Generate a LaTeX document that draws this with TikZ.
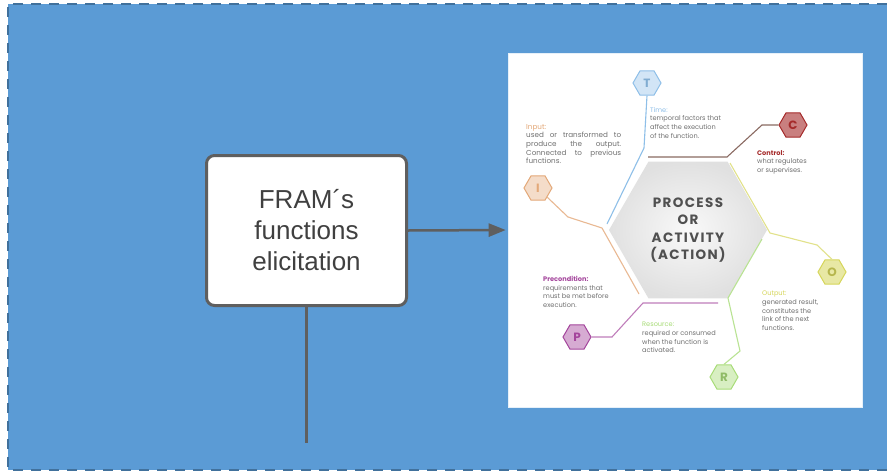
\documentclass[tikz,border=0pt]{standalone}
\usepackage{fontspec}
\setmainfont{Liberation Sans}
\newfontfamily\framfont{Poppins}
\newfontfamily\framwide[LetterSpace=10]{Poppins}
\usepackage{xcolor}
\usetikzlibrary{positioning,arrows.meta,shapes.geometric}
\definecolor{bgblue}{HTML}{5B9BD5}
\definecolor{frameblue}{HTML}{41719C}
\definecolor{boxgray}{HTML}{5F5F5F}
\definecolor{textgray}{HTML}{404040}
\definecolor{procgray}{HTML}{505050}
\definecolor{smallgray}{HTML}{707070}
\definecolor{timeblue}{HTML}{8EBFE8}
\definecolor{ctrlred}{HTML}{A52A2A}
\definecolor{ctrlline}{HTML}{8A6A62}
\definecolor{inorange}{HTML}{E3A878}
\definecolor{outyellow}{HTML}{D6D65A}
\definecolor{resgreen}{HTML}{A8DC78}
\definecolor{prepurple}{HTML}{A4459C}

\tikzset{
  icon/.style={regular polygon, regular polygon sides=6, minimum size=28pt, inner sep=0,
    line width=1pt, font=\framfont\bfseries\fontsize{12}{12}\selectfont},
  aspect/.style={line width=1.1pt},
  info/.style={anchor=north west, inner sep=0, align=left, text=smallgray,
    font=\framfont\fontsize{6.6}{8.6}\selectfont}
}

\begin{document}
\begin{tikzpicture}[x=1pt, y=-1pt, >={Triangle[length=17pt, width=13pt]}]
\useasboundingbox (0,0) rectangle (887,472);

\fill[bgblue] (8,4) rectangle (887,470);
\draw[frameblue, line width=2.5pt, dash pattern=on 10pt off 8pt] (887,4) -- (8,4) -- (8,470) -- (887,470);

% elicitation step
\node[draw=boxgray, line width=3pt, fill=white, rounded corners=8pt,
      minimum width=200pt, minimum height=150pt, align=center, text=textgray,
      font=\fontsize{26}{31}\selectfont] (elic) at (306.5,230.5) {FRAM´s\\functions\\elicitation};

% the FRAM picture
\node[fill=white, draw=white!85!bgblue, line width=0.6pt, minimum width=354pt,
      minimum height=354pt, inner sep=0] (img) at (685,230) {};

\draw[->, line width=2.5pt, boxgray, shorten >=2pt] (elic.east) -- (img.west);
\coordinate (down) at (306.5,443);
\draw[line width=2.5pt, boxgray] (elic.south) -- (down);

% central function
\node[regular polygon, regular polygon sides=6, minimum size=158pt, inner sep=0,
      shade, inner color=gray!5, outer color=gray!24, align=center, text=procgray,
      font=\framwide\bfseries\fontsize{13.5}{17.5}\selectfont] (proc) at (688,230)
      {PROCESS\\OR\\ACTIVITY\\(ACTION)};

% aspects
\node[icon, fill=timeblue!40, draw=timeblue, text=timeblue!90!black] (T) at (647,83) {T};
\node[icon, fill=ctrlred!60!white, draw=ctrlred, text=ctrlred] (C) at (793,125) {C};
\node[icon, fill=inorange!40, draw=inorange, text=inorange] (I) at (538,188) {I};
\node[icon, fill=outyellow!55, draw=outyellow, text=outyellow!85!black] (O) at (832,272) {O};
\node[icon, fill=resgreen!45, draw=resgreen, text=resgreen!85!black] (R) at (724,377) {R};
\node[icon, fill=prepurple!45, draw=prepurple, text=prepurple] (P) at (577,337) {P};

\draw[aspect, timeblue] (T.south) -- (644,148) -- (607,224);
\draw[aspect, ctrlline] (C.west) -- (762,125) -- (727,157) -- (648,157);
\draw[aspect, inorange!80] (I.south east) -- (568,217) -- (602,228) -- (639,294);
\draw[aspect, outyellow!70] (O.north) -- (817,245) -- (770,233) -- (730,163);
\draw[aspect, resgreen!80] (R.north) -- (740,351) -- (728,298) -- (762,239);
\draw[aspect, prepurple!70] (P.east) -- (612,337) -- (643,303) -- (718,303);

% descriptions
\node[info, font=\framfont\fontsize{7.2}{8.6}\selectfont] (tin) at (526,124) {\textcolor{inorange}{Input:}\\\makebox[95pt][s]{used or transformed to}\\\makebox[95pt][s]{produce the output.}\\\makebox[95pt][s]{Connected to previous}\\functions.};
\node[info] (ttime) at (650,107) {\textcolor{timeblue}{Time:}\\temporal factors that\\affect the execution\\of the function.};
\node[info] (tctrl) at (757,150) {\textcolor{ctrlred}{\bfseries Control:}\\what regulates\\or supervises.};
\node[info] (tpre) at (543,276) {\textcolor{prepurple}{\bfseries Precondition:}\\requirements that\\must be met before\\execution.};
\node[info] (tres) at (642,322) {\textcolor{resgreen}{Resource:}\\required or consumed\\when the function is\\activated.};
\node[info] (tout) at (762,291) {\textcolor{outyellow}{Output:}\\generated result,\\constitutes the\\link of the next\\functions.};

\end{tikzpicture}
\end{document}
